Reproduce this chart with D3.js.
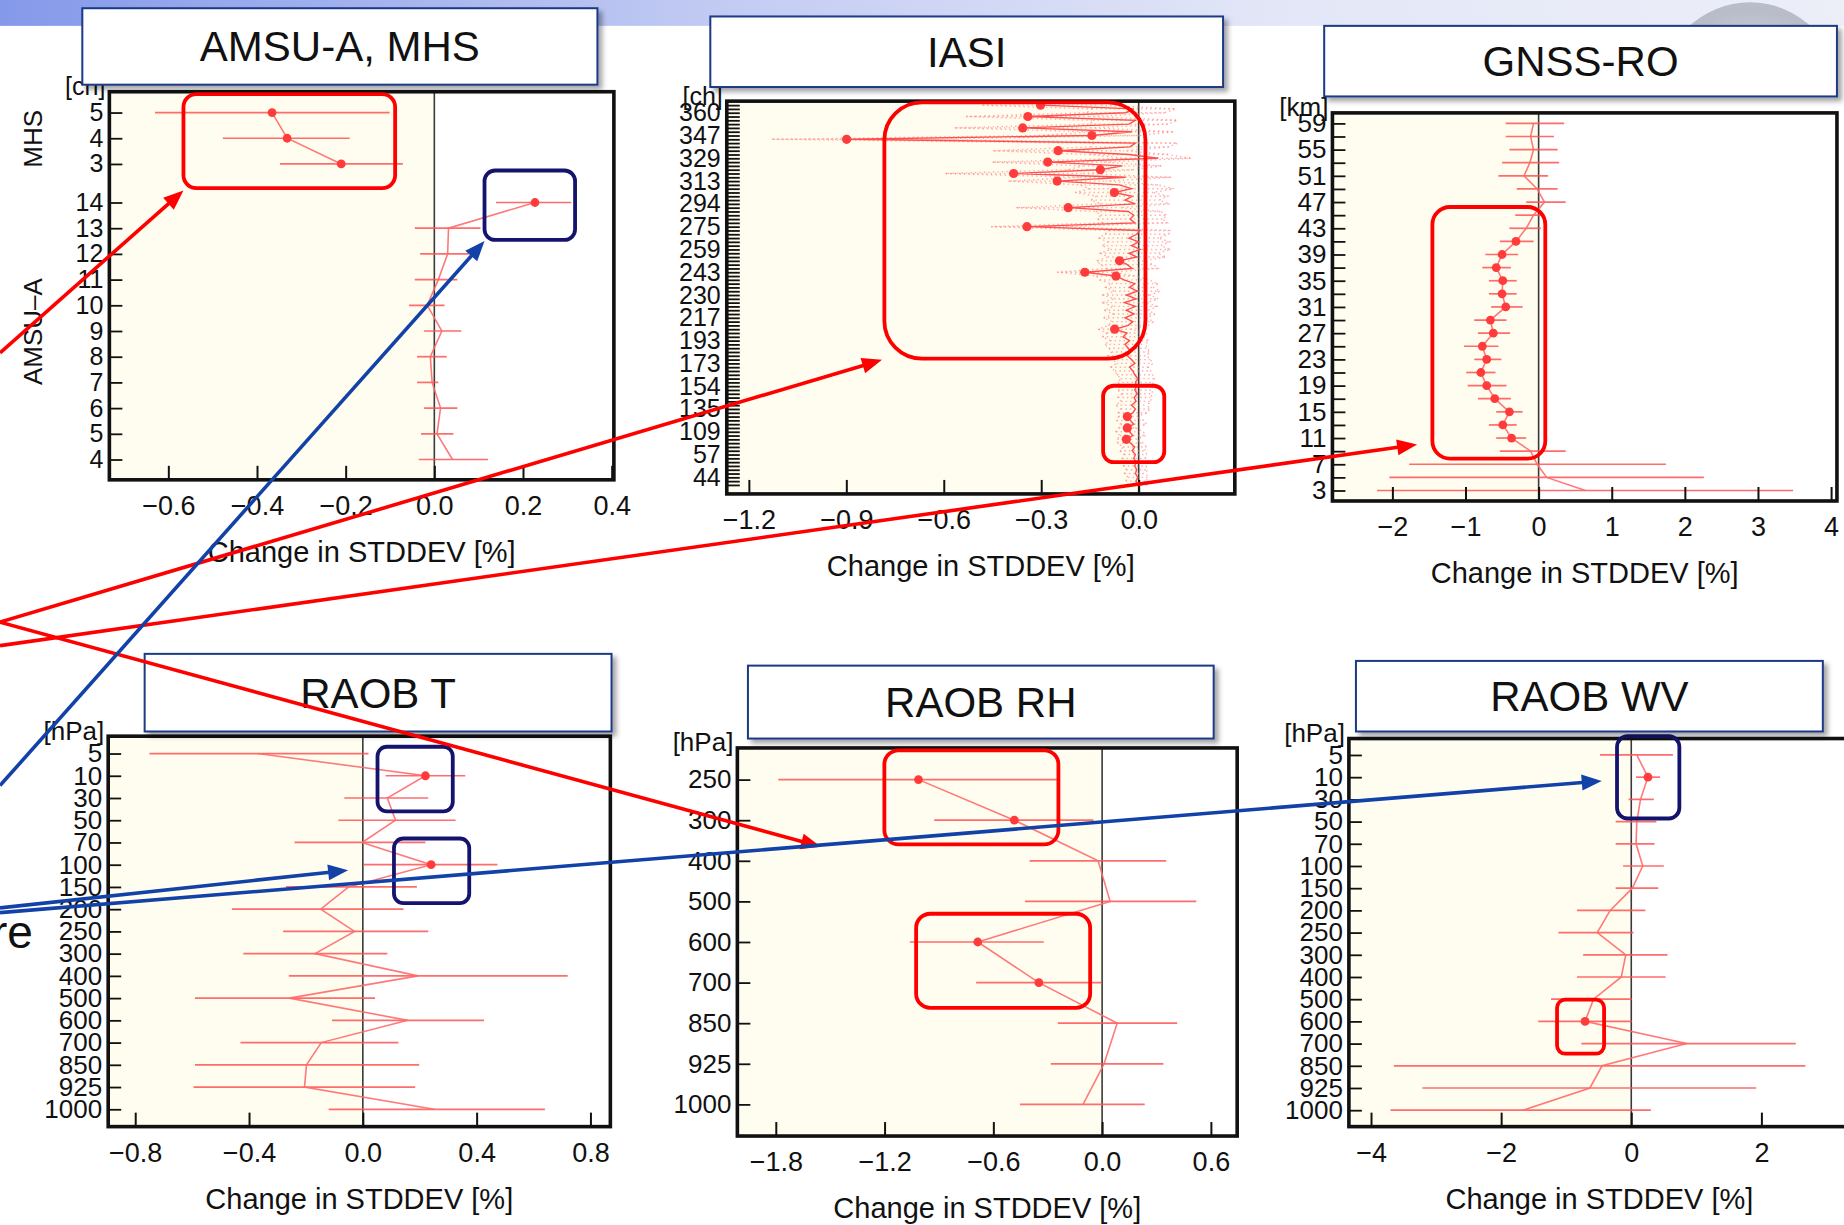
<!DOCTYPE html>
<html>
<head>
<meta charset="utf-8">
<script src="https://cdn.jsdelivr.net/npm/d3@7"></script>
<style>
  body { margin: 0; background: #fff; overflow: hidden; }
  svg { display: block; }
  text { font-family: "Liberation Sans", Arial, sans-serif; fill: #111; }
</style>
</head>
<body>
<svg id="chart"></svg>
<script>
// Change in STDDEV [%] per instrument / level, six small profile panels
const W = 1844, H = 1225;
const S = W / 1568;          // layout numbers below were measured on a 1568 wide copy
const sc = v => v * S;

// ---- AMSU-A / MHS (channels) ----
const amsuCh  = [4, 5, 6, 7, 8, 9, 10, 11, 12, 13, 14];
const amsuVal = [0.041, 0.006, 0.014, -0.005, -0.009, 0.017, -0.016, 0.009, 0.030, 0.032, 0.227];
const amsuLo  = [-0.035, -0.030, -0.023, -0.039, -0.039, -0.023, -0.057, -0.044, -0.032, -0.044, 0.139];
const amsuHi  = [0.121, 0.043, 0.052, 0.009, 0.028, 0.061, 0.023, 0.052, 0.078, 0.104, 0.309];
const amsuSig = [14];
const mhsCh  = [3, 4, 5];
const mhsVal = [-0.210, -0.332, -0.366];
const mhsLo  = [-0.348, -0.477, -0.630];
const mhsHi  = [-0.071, -0.191, -0.101];
const mhsSig = [3, 4, 5];

// ---- IASI (channel index 0 = bottom of the axis) ----
const iasiLabels = [44, 57, 109, 135, 154, 173, 193, 217, 230, 243, 259, 275, 294, 313, 329, 347, 360];
const iasiLabelIdx = [2, 8, 14, 20, 26, 32, 38, 44, 50, 56, 62, 68, 74, 80, 86, 92, 98];
const iasiVal = [
  -0.004, -0.008, -0.003, -0.010, -0.006, -0.012, -0.008, -0.015, -0.010, -0.020,
  -0.012, -0.025, -0.038, -0.018, -0.028, -0.035, -0.015, -0.026, -0.035, -0.018,
  -0.010, -0.022, -0.008, -0.014, -0.004, -0.012, -0.006, -0.010, -0.003, -0.012,
  -0.018, -0.028, -0.012, -0.022, -0.035, -0.025, -0.032, -0.042, -0.028, -0.048,
  -0.036, -0.074, -0.032, -0.018, -0.042, -0.014, -0.038, -0.010, -0.044, -0.008,
  -0.038, -0.004, -0.028, -0.012, -0.045, -0.070, -0.166, -0.020, -0.035, -0.059,
  -0.005, -0.030, 0.005, -0.022, 0.000, -0.030, -0.006, 0.004, -0.344, -0.012,
  -0.026, -0.015, -0.032, -0.217, -0.010, -0.042, -0.020, -0.075, -0.022, -0.060,
  -0.251, -0.040, -0.385, -0.118, -0.050, -0.280, 0.060, -0.030, -0.248, -0.027,
  -0.010, -0.899, -0.144, -0.020, -0.357, -0.030, -0.010, -0.341, -0.040, -0.015,
  -0.302
];
const iasiErr = [
  0.030, 0.032, 0.030, 0.034, 0.032, 0.035, 0.033, 0.036, 0.035, 0.038,
  0.036, 0.040, 0.028, 0.040, 0.042, 0.026, 0.040, 0.042, 0.027, 0.045,
  0.045, 0.048, 0.046, 0.050, 0.048, 0.052, 0.050, 0.054, 0.052, 0.055,
  0.055, 0.058, 0.056, 0.058, 0.060, 0.058, 0.060, 0.062, 0.060, 0.064,
  0.062, 0.050, 0.062, 0.064, 0.066, 0.064, 0.068, 0.066, 0.070, 0.068,
  0.072, 0.070, 0.074, 0.072, 0.075, 0.060, 0.085, 0.080, 0.082, 0.070,
  0.090, 0.088, 0.092, 0.090, 0.095, 0.092, 0.098, 0.095, 0.110, 0.100,
  0.100, 0.102, 0.100, 0.160, 0.105, 0.105, 0.110, 0.120, 0.130, 0.120,
  0.150, 0.140, 0.210, 0.100, 0.120, 0.170, 0.100, 0.120, 0.200, 0.120,
  0.130, 0.230, 0.150, 0.130, 0.210, 0.120, 0.130, 0.190, 0.120, 0.130,
  0.180
];
const iasiSig = [12, 15, 18, 41, 55, 56, 59, 68, 73, 77, 80, 82, 83, 85, 88, 91, 92, 94, 97, 100];

// ---- GNSS-RO (km) ----
const gnssKm = [3, 5, 7, 9, 11, 13, 15, 17, 19, 21, 23, 25, 27, 29, 31, 33, 35, 37, 39, 41, 43, 45, 47, 49, 51, 53, 55, 57, 59];
const gnssLabels = [3, 7, 11, 15, 19, 23, 27, 31, 35, 39, 43, 47, 51, 55, 59];
const gnssVal = [0.64, 0.11, -0.02, -0.11, -0.37, -0.49, -0.40, -0.60, -0.71, -0.79, -0.71, -0.77, -0.62, -0.66, -0.45,
                 -0.50, -0.49, -0.58, -0.50, -0.31, -0.17, -0.07, 0.08, -0.02, -0.20, -0.12, -0.07, -0.11, -0.07];
const gnssLo  = [-2.21, -2.04, -1.77, -0.53, -0.58, -0.68, -0.58, -0.83, -0.97, -0.99, -0.88, -1.02, -0.83, -0.88, -0.65,
                 -0.68, -0.68, -0.77, -0.73, -0.53, -0.40, -0.32, -0.17, -0.30, -0.55, -0.50, -0.40, -0.45, -0.45];
const gnssHi  = [3.48, 2.26, 1.74, 0.37, -0.17, -0.30, -0.22, -0.38, -0.44, -0.59, -0.51, -0.55, -0.39, -0.44, -0.22,
                 -0.30, -0.30, -0.38, -0.28, -0.07, 0.03, 0.03, 0.37, 0.26, 0.13, 0.28, 0.26, 0.21, 0.35];
const gnssSig = [11, 13, 15, 17, 19, 21, 23, 25, 27, 29, 31, 33, 35, 37, 39, 41];

// ---- Radiosondes (hPa) ----
const raobLev = [5, 10, 30, 50, 70, 100, 150, 200, 250, 300, 400, 500, 600, 700, 850, 925, 1000];
const raobTVal = [-0.37, 0.22, 0.086, 0.115, -0.003, 0.24, -0.05, -0.148, -0.029, -0.168, 0.194, -0.258, 0.158, -0.146, -0.198, -0.205, 0.251];
const raobTLo  = [-0.75, 0.08, -0.065, -0.086, -0.24, 0.004, -0.27, -0.46, -0.28, -0.42, -0.26, -0.59, -0.108, -0.43, -0.59, -0.595, -0.12];
const raobTHi  = [0.02, 0.36, 0.23, 0.326, 0.22, 0.473, 0.19, 0.143, 0.23, 0.086, 0.72, 0.043, 0.426, 0.125, 0.198, 0.184, 0.64];
const raobTSig = [10, 100];

const rhLev = [250, 300, 400, 500, 600, 700, 850, 925, 1000];
const rhVal = [-1.013, -0.484, -0.022, 0.044, -0.686, -0.349, 0.083, 0.011, -0.105];
const rhLo  = [-1.786, -0.926, -0.40, -0.425, -1.061, -0.695, -0.244, -0.283, -0.453];
const rhHi  = [-0.25, -0.048, 0.353, 0.519, -0.322, -0.004, 0.414, 0.338, 0.235];
const rhSig = [250, 300, 600, 700];

const wvVal = [0.085, 0.256, 0.142, 0.085, 0.074, 0.176, 0.017, -0.324, -0.523, -0.085, -0.153, -0.58, -0.71, 0.852, -0.449, -0.636, -1.66];
const wvLo  = [-0.48, 0.074, -0.04, -0.24, -0.24, -0.125, -0.24, -0.835, -1.12, -0.739, -0.835, -1.233, -1.43, -0.767, -3.648, -3.21, -3.70];
const wvHi  = [0.64, 0.443, 0.347, 0.386, 0.358, 0.5, 0.415, 0.216, 0.034, 0.557, 0.528, 0.006, 0.006, 2.528, 2.676, 1.92, 0.301];
const wvSig = [10, 600];

const xTitle = "Change in STDDEV [%]";

const svg = d3.select("#chart").attr("width", W).attr("height", H);
const defs = svg.append("defs");

// slide header strip
const hg = defs.append("linearGradient").attr("id", "hdr");
hg.append("stop").attr("offset", "0%").attr("stop-color", "#8599ea");
hg.append("stop").attr("offset", "40%").attr("stop-color", "#c3ccf3");
hg.append("stop").attr("offset", "70%").attr("stop-color", "#e4e7f7");
hg.append("stop").attr("offset", "100%").attr("stop-color", "#eceef8");
const rg = defs.append("radialGradient").attr("id", "dome").attr("cx", "50%").attr("cy", "60%").attr("r", "55%");
rg.append("stop").attr("offset", "0%").attr("stop-color", "#eef0f5");
rg.append("stop").attr("offset", "100%").attr("stop-color", "#b9bdca");
defs.append("clipPath").attr("id", "hdrClip").append("rect").attr("x", 0).attr("y", 0).attr("width", W).attr("height", sc(24));
svg.append("rect").attr("x", 0).attr("y", 0).attr("width", W).attr("height", sc(22)).attr("fill", "url(#hdr)");
svg.append("circle").attr("clip-path", "url(#hdrClip)")
  .attr("cx", sc(1488)).attr("cy", sc(78)).attr("r", sc(76)).attr("fill", "url(#dome)");

const shadow = defs.append("filter").attr("id", "shadow")
  .attr("x", "-5%").attr("y", "-10%").attr("width", "115%").attr("height", "135%");
shadow.append("feDropShadow").attr("dx", 4).attr("dy", 4).attr("stdDeviation", 2.5)
  .attr("flood-color", "#000").attr("flood-opacity", 0.35);

const cream = "#fffdf0";
const lineRed = "#ff6a6a";
const barRed = "#ff5252";
const dotRed = "#ff3b3b";

function setup(p) {
  const fr = { x0: sc(p.frame[0]), y0: sc(p.frame[1]), x1: sc(p.frame[2]), y1: sc(p.frame[3]) };
  const g = svg.append("g");
  const x = d3.scaleLinear().domain(p.xDom).range([fr.x0, fr.x1]);
  g.append("rect").attr("x", fr.x0).attr("y", fr.y0)
    .attr("width", x(0) - fr.x0).attr("height", fr.y1 - fr.y0).attr("fill", cream);
  g.append("line").attr("x1", x(0)).attr("x2", x(0)).attr("y1", fr.y0).attr("y2", fr.y1)
    .attr("stroke", "#3a3a3a").attr("stroke-width", 1.6);
  return { g, x, fr, p };
}

function profile(P, ys, val, lo, hi, dotsOn) {
  const { g, x } = P;
  g.append("g").selectAll("line").data(val).join("line")
    .attr("x1", (d, i) => x(lo[i])).attr("x2", (d, i) => x(hi[i]))
    .attr("y1", (d, i) => ys[i]).attr("y2", (d, i) => ys[i])
    .attr("stroke", barRed).attr("stroke-opacity", 0.85).attr("stroke-width", 1.7);
  g.append("path").datum(val)
    .attr("d", d3.line().x(d => x(d)).y((d, i) => ys[i]))
    .attr("fill", "none").attr("stroke", lineRed).attr("stroke-width", 1.6).attr("stroke-opacity", 0.9);
  g.append("g").selectAll("circle").data(val.map((d, i) => [d, ys[i], dotsOn[i]]).filter(d => d[2])).join("circle")
    .attr("cx", d => x(d[0])).attr("cy", d => d[1]).attr("r", 4.4).attr("fill", dotRed);
}

function finish(P, yScale, yTicks, yFmt, ySize) {
  const { g, x, fr, p } = P;
  g.append("g").attr("transform", `translate(0,${fr.y1})`)
    .call(d3.axisBottom(x).tickValues(p.xTicks).tickFormat(d3.format(p.xFmt)).tickSize(-14).tickPadding(16))
    .call(a => a.select(".domain").remove())
    .attr("font-family", null).attr("font-size", 27).attr("color", "#111")
    .call(a => a.selectAll("line").attr("stroke-width", 2));
  g.append("g").attr("transform", `translate(${fr.x0},0)`)
    .call(d3.axisLeft(yScale).tickValues(yTicks).tickFormat(yFmt).tickSize(-13).tickPadding(6))
    .call(a => a.select(".domain").remove())
    .attr("font-family", null).attr("font-size", ySize).attr("color", "#111")
    .call(a => a.selectAll("line").attr("stroke-width", 1.8));
  g.append("rect").attr("x", fr.x0).attr("y", fr.y0)
    .attr("width", fr.x1 - fr.x0).attr("height", fr.y1 - fr.y0)
    .attr("fill", "none").attr("stroke", "#111").attr("stroke-width", 3.6);
  g.append("text").attr("x", fr.x0 - 4).attr("y", fr.y0 + sc(3))
    .attr("text-anchor", "end").attr("font-size", ySize).text(p.unit);
  g.append("text").attr("x", (fr.x0 + fr.x1) / 2).attr("y", fr.y1 + sc(70))
    .attr("text-anchor", "middle").attr("font-size", 29).text(xTitle);
}

// ---------- AMSU-A, MHS ----------
{
  const P = setup({ frame: [93, 78, 522, 408], xDom: [-0.733, 0.405], xTicks: [-0.6, -0.4, -0.2, 0, 0.2, 0.4], xFmt: ".1f", unit: "[ch]" });
  const amsuSlot = amsuCh.map(c => c - 4);
  const mhsSlot = mhsCh.map(c => c + 8.5);
  const y = d3.scaleLinear().domain([-0.79, 14.31]).range([P.fr.y1, P.fr.y0]);
  const lab = new Map([...amsuSlot.map((s, i) => [s, amsuCh[i]]), ...mhsSlot.map((s, i) => [s, mhsCh[i]])]);
  profile(P, amsuSlot.map(y), amsuVal, amsuLo, amsuHi, amsuCh.map(c => amsuSig.includes(c)));
  profile(P, mhsSlot.map(y), mhsVal, mhsLo, mhsHi, mhsCh.map(c => mhsSig.includes(c)));
  finish(P, y, [...amsuSlot, ...mhsSlot], s => lab.get(s), 25);
  svg.append("text").attr("transform", `translate(${sc(36)},${sc(118)}) rotate(-90)`)
    .attr("text-anchor", "middle").attr("font-size", 26).text("MHS");
  svg.append("text").attr("transform", `translate(${sc(36)},${sc(282)}) rotate(-90)`)
    .attr("text-anchor", "middle").attr("font-size", 26).text("AMSU–A");
}

// ---------- IASI ----------
{
  const P = setup({ frame: [618, 86, 1050, 420], xDom: [-1.268, 0.296], xTicks: [-1.2, -0.9, -0.6, -0.3, 0], xFmt: ".1f", unit: "[ch]" });
  const idx = iasiVal.map((d, i) => i);
  const y = d3.scaleLinear().domain([-2.37, 101.05]).range([P.fr.y1, P.fr.y0]);
  const ys = idx.map(y);
  const lo = iasiVal.map((d, i) => d - iasiErr[i]);
  const hi = iasiVal.map((d, i) => d + iasiErr[i]);
  const { g, x } = P;
  const dotted = sel => sel.attr("fill", "none").attr("stroke", "#ff7a7a").attr("stroke-opacity", 0.6)
    .attr("stroke-width", 1.4).attr("stroke-dasharray", "1.5,3");
  g.append("g").selectAll("line").data(iasiVal).join("line")
    .attr("x1", (d, i) => x(lo[i])).attr("x2", (d, i) => x(hi[i]))
    .attr("y1", (d, i) => ys[i]).attr("y2", (d, i) => ys[i]).call(dotted);
  g.append("path").datum(lo).attr("d", d3.line().x(d => x(d)).y((d, i) => ys[i])).call(dotted);
  g.append("path").datum(hi).attr("d", d3.line().x(d => x(d)).y((d, i) => ys[i])).call(dotted);
  g.append("path").datum(iasiVal)
    .attr("d", d3.line().x(d => x(d)).y((d, i) => ys[i]))
    .attr("fill", "none").attr("stroke", "#ff4f4f").attr("stroke-width", 1.4);
  g.append("g").selectAll("circle").data(iasiSig).join("circle")
    .attr("cx", i => x(iasiVal[i])).attr("cy", i => y(i)).attr("r", 4.6).attr("fill", dotRed);
  const lab = new Map(iasiLabelIdx.map((k, i) => [k, iasiLabels[i]]));
  finish(P, y, idx, i => lab.has(i) ? lab.get(i) : "", 25);
}

// ---------- GNSS-RO ----------
{
  const P = setup({ frame: [1133, 96, 1562, 426], xDom: [-2.82, 4.08], xTicks: [-2, -1, 0, 1, 2, 3, 4], xFmt: "d", unit: "[km]" });
  const y = d3.scaleLinear().domain([1.4, 60.6]).range([P.fr.y1, P.fr.y0]);
  profile(P, gnssKm.map(y), gnssVal, gnssLo, gnssHi, gnssKm.map(k => gnssSig.includes(k)));
  finish(P, y, gnssKm, k => gnssLabels.includes(k) ? k : "", 26);
}

// ---------- RAOB T ----------
{
  const P = setup({ frame: [92, 626, 519, 958], xDom: [-0.895, 0.870], xTicks: [-0.8, -0.4, 0, 0.4, 0.8], xFmt: ".1f", unit: "[hPa]" });
  const y = d3.scalePoint().domain(raobLev).range([P.fr.y0, P.fr.y1]).padding(0.78);
  profile(P, raobLev.map(y), raobTVal, raobTLo, raobTHi, raobLev.map(l => raobTSig.includes(l)));
  finish(P, y, raobLev, d => d, 26);
}

// ---------- RAOB RH ----------
{
  const P = setup({ frame: [627, 636, 1052, 966], xDom: [-2.012, 0.745], xTicks: [-1.8, -1.2, -0.6, 0, 0.6], xFmt: ".1f", unit: "[hPa]" });
  const y = d3.scalePoint().domain(rhLev).range([P.fr.y0, P.fr.y1]).padding(0.78);
  profile(P, rhLev.map(y), rhVal, rhLo, rhHi, rhLev.map(l => rhSig.includes(l)));
  finish(P, y, rhLev, d => d, 26);
}

// ---------- RAOB WV ----------
{
  const P = setup({ frame: [1147, 628, 1573, 958], xDom: [-4.34, 3.36], xTicks: [-4, -2, 0, 2], xFmt: "d", unit: "[hPa]" });
  const y = d3.scalePoint().domain(raobLev).range([P.fr.y0, P.fr.y1]).padding(0.74);
  profile(P, raobLev.map(y), wvVal, wvLo, wvHi, raobLev.map(l => wvSig.includes(l)));
  finish(P, y, raobLev, d => d, 26);
}

// ---------- highlight boxes ----------
const navy = "#14146e";
const boxes = [
  { r: [156, 80, 336, 160], rx: 11, c: "red" },
  { r: [412, 145, 489, 204], rx: 9, c: navy },
  { r: [752, 87, 974, 305], rx: 32, c: "red" },
  { r: [938, 328, 990, 393], rx: 9, c: "red" },
  { r: [1218, 176, 1314, 390], rx: 15, c: "red" },
  { r: [321, 635, 385, 690], rx: 8, c: navy },
  { r: [335, 713, 399, 768], rx: 8, c: navy },
  { r: [752, 638, 900, 718], rx: 12, c: "red" },
  { r: [779, 777, 927, 857], rx: 12, c: "red" },
  { r: [1375, 626, 1428, 696], rx: 9, c: navy },
  { r: [1324, 850, 1364, 896], rx: 7, c: "red" }
];
svg.append("g").selectAll("rect").data(boxes).join("rect")
  .attr("x", d => sc(d.r[0])).attr("y", d => sc(d.r[1]))
  .attr("width", d => sc(d.r[2] - d.r[0])).attr("height", d => sc(d.r[3] - d.r[1]))
  .attr("rx", d => sc(d.rx)).attr("fill", "none").attr("stroke", d => d.c).attr("stroke-width", 3.8);

// ---------- title boxes ----------
const titles = [
  { t: "AMSU-A, MHS", r: [70, 7, 508, 72] },
  { t: "IASI", r: [604, 14, 1040, 74] },
  { t: "GNSS-RO", r: [1126, 22, 1562, 82] },
  { t: "RAOB T", r: [123, 556, 520, 622] },
  { t: "RAOB RH", r: [636, 566, 1032, 628] },
  { t: "RAOB WV", r: [1153, 562, 1550, 622] }
];
const tg = svg.append("g").selectAll("g").data(titles).join("g");
tg.append("rect")
  .attr("x", d => sc(d.r[0])).attr("y", d => sc(d.r[1]))
  .attr("width", d => sc(d.r[2] - d.r[0])).attr("height", d => sc(d.r[3] - d.r[1]))
  .attr("fill", "#fff").attr("stroke", "#1d3a86").attr("stroke-width", 2).attr("filter", "url(#shadow)");
tg.append("text")
  .attr("x", d => sc((d.r[0] + d.r[2]) / 2)).attr("y", d => sc((d.r[1] + d.r[3]) / 2) + 15)
  .attr("text-anchor", "middle").attr("font-size", 42).attr("fill", "#000").text(d => d.t);

// ---------- arrows from the (cut off) text on the left ----------
const arrowBlue = "#1241a8";
const arrows = [
  { a: [0, 300, 156, 162], c: "red" },
  { a: [0, 529, 750, 306], c: "red" },
  { a: [0, 549, 1205, 378], c: "red" },
  { a: [0, 529, 698, 720], c: "red" },
  { a: [0, 668, 412, 205], c: arrowBlue },
  { a: [0, 772, 296, 740], c: arrowBlue },
  { a: [0, 776, 1362, 664], c: arrowBlue }
];
const ag = svg.append("g");
arrows.forEach(({ a, c }) => {
  const [x1, y1, x2, y2] = a.map(sc);
  const len = Math.hypot(x2 - x1, y2 - y1);
  const ux = (x2 - x1) / len, uy = (y2 - y1) / len;
  const hl = 20, hw = 8;
  ag.append("line").attr("x1", x1).attr("y1", y1)
    .attr("x2", x2 - ux * (hl - 4)).attr("y2", y2 - uy * (hl - 4))
    .attr("stroke", c).attr("stroke-width", 3.6);
  const bx = x2 - ux * hl, by = y2 - uy * hl;
  ag.append("path")
    .attr("d", `M${x2},${y2}L${bx - uy * hw},${by + ux * hw}L${bx + uy * hw},${by - ux * hw}Z`)
    .attr("fill", c);
});

// tail of a word from the slide text on the left, cut by the page edge
svg.append("text").attr("x", sc(28)).attr("y", sc(806)).attr("text-anchor", "end")
  .attr("font-size", 46).attr("fill", "#000").text("re");
</script>
</body>
</html>
